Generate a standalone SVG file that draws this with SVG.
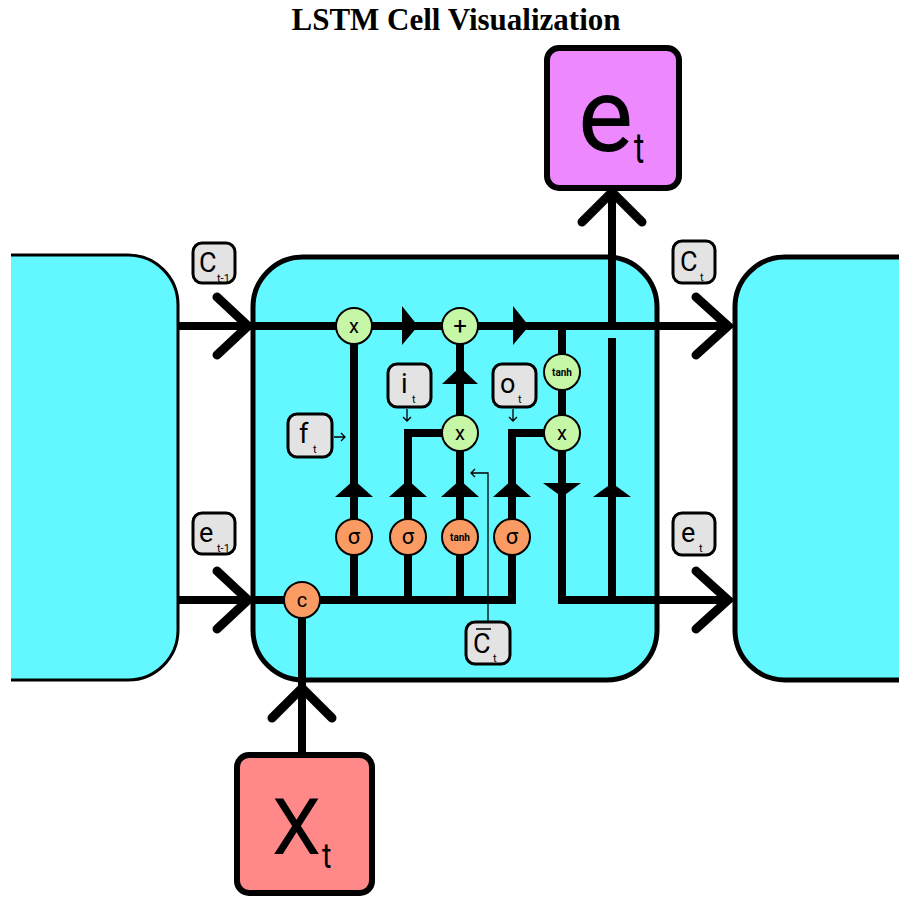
<svg xmlns="http://www.w3.org/2000/svg" width="899" height="899" viewBox="0 0 899 899">
<style>
.cell{fill:#63f8ff;stroke:#000}
.wire{fill:none;stroke:#000;stroke-width:8}
.chev{fill:none;stroke:#000;stroke-width:9;stroke-linecap:round;stroke-linejoin:miter}
.tri{fill:#000}
.g{fill:#c6f7a6;stroke:#000;stroke-width:2}
.o{fill:#f99b63;stroke:#000;stroke-width:2}
.lab{fill:#e3e3e3;stroke:#000;stroke-width:3}
.t{font-family:Roboto,"Liberation Sans",sans-serif;fill:#000}
.L{font-size:27px}
.s{font-size:11px}
.thin{fill:none;stroke:#000;stroke-width:1.3}
</style>
<rect width="899" height="899" fill="#fff"/>
<text x="456" y="30" text-anchor="middle" font-family="'Liberation Serif',serif" font-weight="bold" font-size="31">LSTM Cell Visualization</text>

<g id="prev_cell"><path d="M11,255 H128 A50,50 0 0 1 178,305 V630 A50,50 0 0 1 128,680 H11 Z" fill="#63f8ff"/><path d="M11,255 H128 A50,50 0 0 1 178,305 V630 A50,50 0 0 1 128,680 H11" fill="none" stroke="#000" stroke-width="3"/></g>
<g id="next_cell"><path d="M899,257 H785 A50,50 0 0 0 735,307 V630 A50,50 0 0 0 785,680 H899" fill="#63f8ff" stroke="#000" stroke-width="5"/></g>
<g id="cell"><rect class="cell" x="253" y="257" width="404" height="423" rx="50" stroke-width="5"/></g>

<g id="connectors">
<path class="wire" d="M178,326 H728"/>
<path class="chev" d="M217,297 L248,326 L217,355"/>
<path class="chev" d="M696,297 L728,326 L696,355"/>
<path class="wire" d="M178,600 H248"/>
<path class="chev" d="M217,571 L248,600 L217,629"/>
<path class="wire" d="M253,600 H512 V433 H562"/>
<path class="wire" d="M354,326 V600"/>
<path class="wire" d="M408,600 V433 H460"/>
<path class="wire" d="M460,326 V600"/>
<path class="wire" d="M562,326 V600 H728"/>
<path class="chev" d="M696,571 L728,600 L696,629"/>
<path class="wire" d="M612,600 V338"/>
<path class="wire" d="M612,322 V192"/>
<path class="chev" d="M582,222 L612,192 L642,222"/>
<path class="wire" d="M302,600 V755"/>
<path class="chev" d="M272,718 L302,688 L332,718"/>
<polygon class="tri" points="402,306 418,326 402,345"/>
<polygon class="tri" points="513,306 529,326 513,345"/>
<polygon class="tri" points="460,367 478,384 442,384"/>
<polygon class="tri" points="354,480 373,497 335,497"/>
<polygon class="tri" points="408,480 427,497 389,497"/>
<polygon class="tri" points="460,480 479,497 441,497"/>
<polygon class="tri" points="512,480 531,497 493,497"/>
<polygon class="tri" points="543,483 581,483 562,497"/>
<polygon class="tri" points="612,483 631,497 593,497"/>
<path class="thin" d="M334,437 H345 M341,433 L345,437 L341,441"/>
<path class="thin" d="M407,409 V421 M403,417 L407,421 L411,417"/>
<path class="thin" d="M513,409 V421 M509,417 L513,421 L517,417"/>
<path class="thin" d="M488,622 V473 H471 M475,469 L471,473 L475,477"/>
</g>

<g id="mul_f"><circle class="g" cx="354" cy="326" r="18"/><text class="t" x="354" y="333" text-anchor="middle" font-size="20">x</text></g>
<g id="add_c"><circle class="g" cx="460" cy="326" r="18"/><text class="t" x="460" y="334" text-anchor="middle" font-size="24">+</text></g>
<g id="mul_i"><circle class="g" cx="460" cy="433" r="18"/><text class="t" x="460" y="440" text-anchor="middle" font-size="20">x</text></g>
<g id="tanh_c"><circle class="g" cx="562" cy="372" r="18"/><text class="t" x="562" y="376" text-anchor="middle" font-size="10" font-weight="bold">tanh</text></g>
<g id="mul_o"><circle class="g" cx="562" cy="433" r="18"/><text class="t" x="562" y="440" text-anchor="middle" font-size="20">x</text></g>

<g id="sig_f"><circle class="o" cx="354" cy="537" r="18"/><text class="t" x="354" y="544" text-anchor="middle" font-size="22">σ</text></g>
<g id="sig_i"><circle class="o" cx="408" cy="537" r="18"/><text class="t" x="408" y="544" text-anchor="middle" font-size="22">σ</text></g>
<g id="tanh_g"><circle class="o" cx="460" cy="537" r="18"/><text class="t" x="460" y="541" text-anchor="middle" font-size="10" font-weight="bold">tanh</text></g>
<g id="sig_o"><circle class="o" cx="512" cy="537" r="18"/><text class="t" x="512" y="544" text-anchor="middle" font-size="22">σ</text></g>
<g id="concat"><circle class="o" cx="302" cy="600" r="18"/><text class="t" x="302" y="607" text-anchor="middle" font-size="20">c</text></g>

<g id="lab_ct1"><rect class="lab" x="193" y="243" width="42" height="40" rx="9"/><text class="t L" x="199" y="272">C</text><text class="t s" x="217" y="282">t-1</text></g>
<g id="lab_ct"><rect class="lab" x="673" y="241" width="42" height="42" rx="9"/><text class="t L" x="680" y="271">C</text><text class="t s" x="700" y="281">t</text></g>
<g id="lab_et1"><rect class="lab" x="193" y="513" width="42" height="41" rx="9"/><text class="t L" x="199" y="542">e</text><text class="t s" x="217" y="552">t-1</text></g>
<g id="lab_et"><rect class="lab" x="673" y="513" width="42" height="42" rx="9"/><text class="t L" x="681" y="542">e</text><text class="t s" x="699" y="552">t</text></g>
<g id="lab_ft"><rect class="lab" x="288" y="414" width="44" height="43" rx="9"/><text class="t L" x="299" y="443">f</text><text class="t s" x="313" y="453">t</text></g>
<g id="lab_it"><rect class="lab" x="388" y="364" width="43" height="43" rx="9"/><text class="t L" x="401" y="393">i</text><text class="t s" x="412" y="403">t</text></g>
<g id="lab_ot"><rect class="lab" x="493" y="364" width="43" height="43" rx="9"/><text class="t L" x="500" y="393">o</text><text class="t s" x="518" y="403">t</text></g>
<g id="lab_cbar"><rect class="lab" x="466" y="622" width="44" height="42" rx="9"/><text class="t L" x="473" y="653">C</text><path d="M476,629 H491" stroke="#000" stroke-width="1.5"/><text class="t s" x="493" y="662">t</text></g>

<g id="out_et"><rect x="547" y="48" width="132" height="140" rx="12" fill="#ee88ff" stroke="#000" stroke-width="6"/><text class="t" x="578" y="151" font-size="104">e</text><text class="t" x="634" y="163" font-size="42" transform="translate(634,163) scale(0.75,1) translate(-634,-163)">t</text></g>
<g id="in_xt"><rect x="237" y="755" width="135" height="138" rx="12" fill="#ff8888" stroke="#000" stroke-width="6"/><text class="t" x="272" y="854" font-size="78">X</text><text class="t" x="322" y="868" font-size="36" transform="translate(322,868) scale(0.8,1) translate(-322,-868)">t</text></g>
</svg>
